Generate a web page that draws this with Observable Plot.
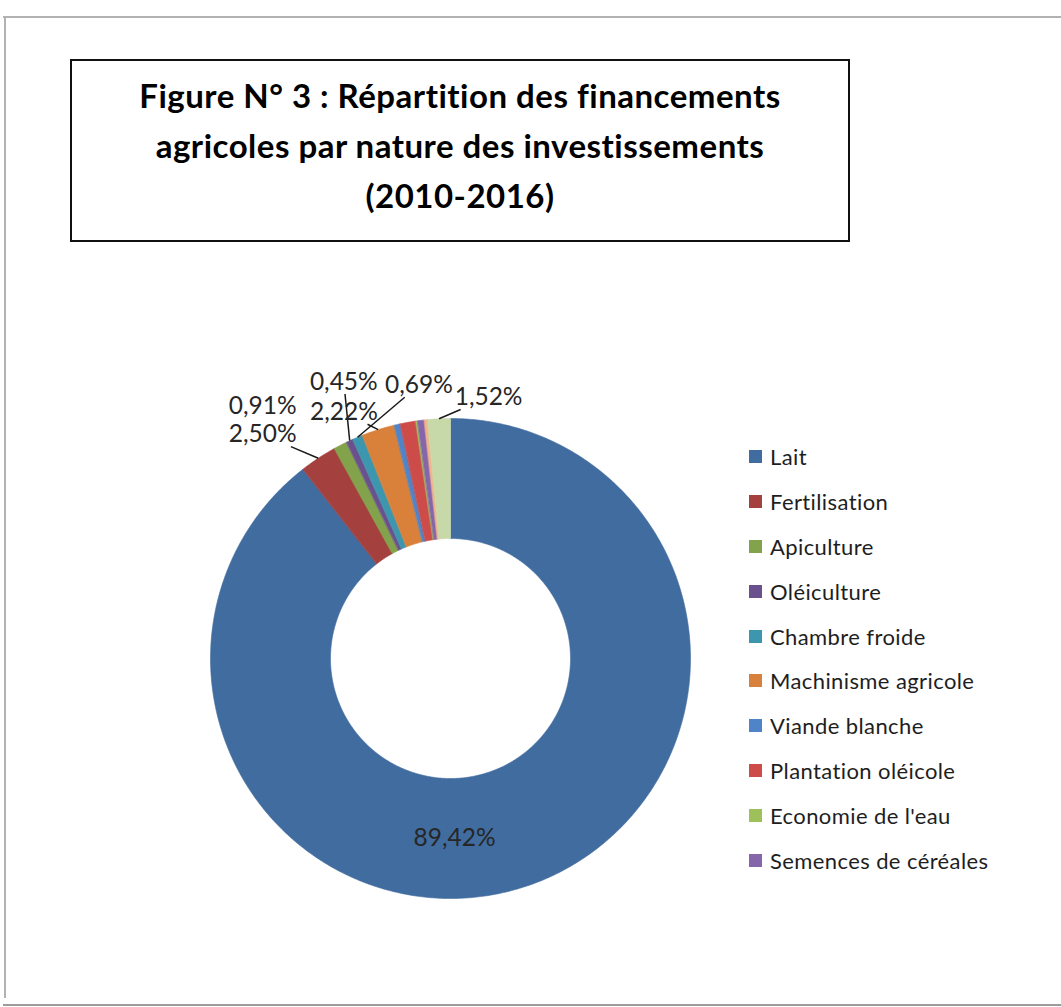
<!DOCTYPE html>
<html>
<head>
<meta charset="utf-8">
<script src="https://cdn.jsdelivr.net/npm/d3@7"></script>
<script src="https://cdn.jsdelivr.net/npm/@observablehq/plot@0.6"></script>
<style>
  html, body { margin: 0; padding: 0; background: #fff; }
  #page { position: relative; width: 1061px; height: 1007px; overflow: hidden; font-family: Lato, "Open Sans", sans-serif; }
  .fr { position: absolute; background: #b2b2b2; }
  #titlebox { position: absolute; left: 70px; top: 59px; width: 776px; height: 179px; border: 2px solid #111; }
  #title { position: absolute; left: 70px; width: 780px; top: 70px; text-align: center; font-weight: 700; font-size: 33px; letter-spacing: 0.5px; line-height: 50px; color: #000; }
  #chart { position: absolute; left: 0; top: 300px; }
  #legend { position: absolute; left: 749px; top: 434px; width: 310px; }
  #legend .lg-swatch { height: 44.9px; padding-bottom: 0; letter-spacing: 0.4px; }
  #legend .lg-swatch > svg { margin-right: 8px; }
</style>
</head>
<body>
<div id="page">
  <div class="fr" style="left:3px;top:16px;width:1058px;height:2px;"></div>
  <div class="fr" style="left:4px;top:16px;width:2px;height:982px;"></div>
  <div class="fr" style="left:3px;top:1004px;width:1058px;height:2px;background:#9c9c9c;"></div>
  <div id="titlebox"></div>
  <div id="title">Figure N° 3 : Répartition des financements<br>agricoles par nature des investissements<br>(2010-2016)</div>
  <div id="chart"></div>
  <div id="legend"></div>
</div>
<script>
// ---- data ----
const categories = ["Lait", "Fertilisation", "Apiculture", "Oléiculture", "Chambre froide",
  "Machinisme agricole", "Viande blanche", "Plantation oléicole", "Economie de l'eau",
  "Semences de céréales", "Non légendé A", "Non légendé B"];
const shares = [89.42, 2.50, 0.91, 0.45, 0.69, 2.22, 0.40, 1.05, 0.12, 0.45, 0.22, 1.52];
const labelTexts = ["89,42%", "2,50%", "0,91%", "0,45%", "0,69%", "2,22%", null, null, null, null, null, "1,52%"];
const legendCount = 10; // legend in the reference lists only the first ten

// ---- styles / layout ----
const colors = ["#416C9F", "#A4403D", "#83A24C", "#6B508E", "#3C97AE", "#D9813A",
  "#4F85C8", "#CD4B49", "#9DC05A", "#8566AA", "#F2B48A", "#C8D9A9"];
const innerRatio = 0.5;
// label placement: [angle in degrees clockwise from 12 o'clock, radius in outer-radius units, leader?]
const labelLayout = {
  "Lait": [178.7, 0.75, false],
  "Fertilisation": [320.0, 1.218, true],
  "Apiculture": [323.3, 1.31, false],
  "Oléiculture": [338.9, 1.235, true],
  "Chambre froide": [353.4, 1.146, true],
  "Machinisme agricole": [336.6, 1.118, true],
  "Non légendé B": [8.3, 1.099, true]
};

const arcs = d3.pie().sort(null).value(d => d)(shares);
const poly = [];
arcs.forEach((a, i) => {
  const n = Math.max(2, Math.ceil((a.endAngle - a.startAngle) / (Math.PI / 360)));
  for (let k = 0; k <= n; k++) {
    const t = a.startAngle + (a.endAngle - a.startAngle) * k / n;
    poly.push({cat: categories[i], x: Math.sin(t), y: Math.cos(t)});
  }
  for (let k = n; k >= 0; k--) {
    const t = a.startAngle + (a.endAngle - a.startAngle) * k / n;
    poly.push({cat: categories[i], x: innerRatio * Math.sin(t), y: innerRatio * Math.cos(t)});
  }
});

const labels = [];
const leaders = [];
const hw = 0.15, hh = 0.05;
arcs.forEach((a, i) => {
  const txt = labelTexts[i];
  if (!txt) return;
  const L = labelLayout[categories[i]];
  const th = L[0] * Math.PI / 180;
  const cx = L[1] * Math.sin(th), cy = L[1] * Math.cos(th);
  labels.push({text: txt, x: cx, y: cy});
  if (L[2]) {
    const mid = (a.startAngle + a.endAngle) / 2;
    const px = Math.sin(mid), py = Math.cos(mid);
    const dx = px - cx, dy = py - cy;
    const t = Math.min(hw / Math.max(Math.abs(dx), 1e-6), hh / Math.max(Math.abs(dy), 1e-6));
    leaders.push({x1: cx + t * dx, y1: cy + t * dy, x2: px, y2: py});
  }
});

const W = 1061, H = 660, cxPx = 450, cyPx = 358, rPx = 240;
const chart = Plot.plot({
  width: W, height: H,
  margin: 0,
  x: {domain: [-cxPx / rPx, (W - cxPx) / rPx], axis: null},
  y: {domain: [-(H - cyPx) / rPx, cyPx / rPx], axis: null},
  color: {type: "ordinal", domain: categories, range: colors},
  style: {fontFamily: "Lato, 'Open Sans', sans-serif", background: "transparent", overflow: "visible"},
  marks: [
    Plot.line(poly, {x: "x", y: "y", z: "cat", fill: "cat", stroke: "cat", strokeWidth: 0.6, curve: "linear-closed"}),
    Plot.link(leaders, {x1: "x1", y1: "y1", x2: "x2", y2: "y2", stroke: "#1a1a1a", strokeWidth: 1.5}),
    Plot.text(labels, {x: "x", y: "y", text: "text", fontSize: 24.5, fill: "#262626"})
  ]
});
document.getElementById("chart").appendChild(chart);

const leg = Plot.legend({
  color: {type: "ordinal", domain: categories.slice(0, legendCount), range: colors.slice(0, legendCount)},
  legend: "swatches",
  columns: 1,
  swatchSize: 13,
  className: "lg",
  style: {fontFamily: "Lato, 'Open Sans', sans-serif", fontSize: "22px", color: "#1e1e1e", marginBottom: "0"}
});
document.getElementById("legend").appendChild(leg);
</script>
</body>
</html>
